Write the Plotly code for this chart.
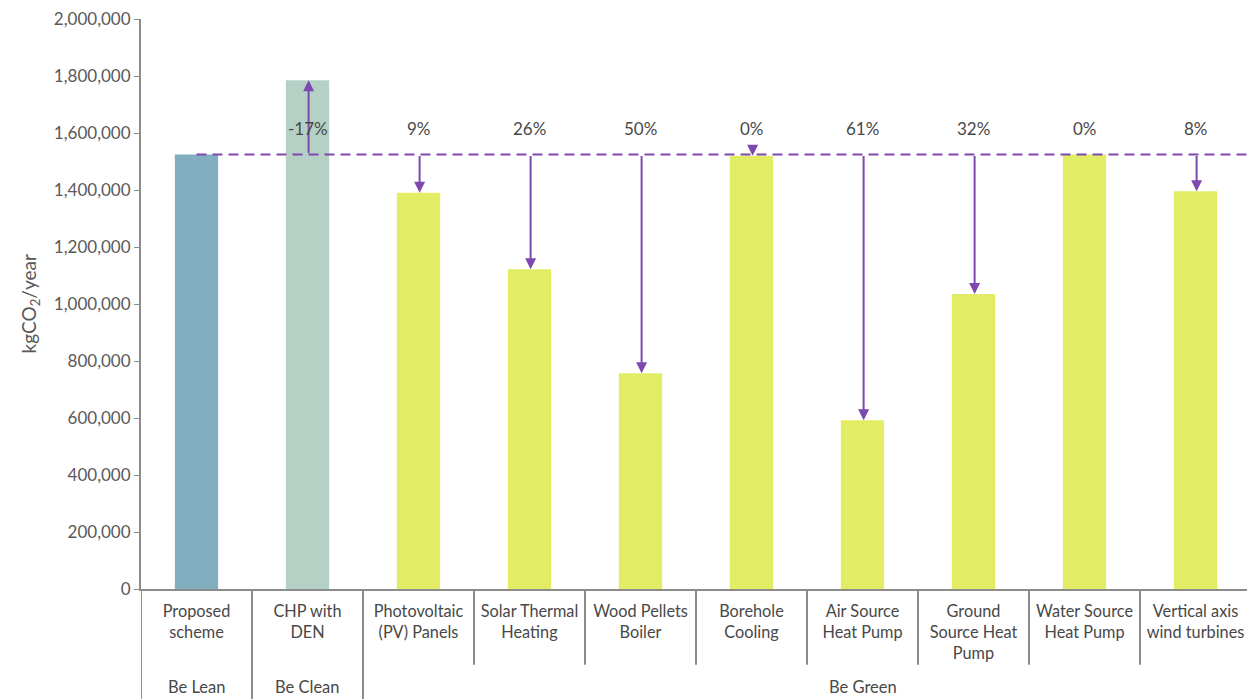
import plotly.graph_objects as go

# Carbon emissions per strategy (kgCO2/year)
categories = [
    "Proposed<br>scheme", "CHP with<br>DEN", "Photovoltaic<br>(PV) Panels",
    "Solar Thermal<br>Heating", "Wood Pellets<br>Boiler", "Borehole<br>Cooling",
    "Air Source<br>Heat Pump", "Ground<br>Source Heat<br>Pump",
    "Water Source<br>Heat Pump", "Vertical axis<br>wind turbines",
]
emissions = [1525000, 1785000, 1390000, 1122000, 757000, 1520000,
             592000, 1035000, 1525000, 1396000]
savings_labels = ["", "-17%", "9%", "26%", "50%", "0%", "61%", "32%", "0%", "8%"]
groups = ["Be Lean", "Be Clean", "Be Green"]
group_first = [0, 1, 2]          # first category index in each group
group_label_pos = [0, 1, 6]      # category index where group label sits
baseline = emissions[0]

LEAN = "#82AFC0"
CLEAN = "#B5D1C6"
GREEN = "#E2EC64"
PURPLE = "#7E48B0"
AXIS = "#8C8C8C"
TEXT = "#484848"
FONT = "Lato"

bar_colors = [LEAN, CLEAN] + [GREEN] * (len(categories) - 2)
xs = list(range(len(categories)))

fig = go.Figure()
fig.add_trace(go.Bar(
    x=xs, y=emissions, marker=dict(color=bar_colors, line=dict(width=0)),
    width=0.39, hoverinfo="y",
))

# baseline reference line from the proposed scheme
fig.add_shape(type="line", xref="x", yref="y", x0=0, x1=len(categories),
              y0=baseline, y1=baseline,
              line=dict(color=PURPLE, width=2, dash="10px,6px"))

annotations = []
min_arrow = 30000  # shortest arrow so the head stays visible
for i, (v, lab) in enumerate(zip(emissions, savings_labels)):
    if i == 0:
        continue
    if v != baseline:
        tail = baseline
        if abs(baseline - v) < min_arrow:
            tail = v + min_arrow
        annotations.append(dict(
            x=i + 0.01, y=v, ax=i + 0.01, ay=tail, xref="x", yref="y",
            axref="x", ayref="y", showarrow=True, arrowhead=2, arrowsize=1.1,
            arrowwidth=2, arrowcolor=PURPLE, standoff=0, startstandoff=0, text="",
        ))
    annotations.append(dict(
        x=i, y=1617000, xref="x", yref="y", text=lab, showarrow=False,
        font=dict(family=FONT, size=17, color=TEXT), yanchor="middle",
    ))

for g, pos in zip(groups, group_label_pos):
    annotations.append(dict(
        x=pos, y=-0.172, xref="x", yref="paper", text=g, showarrow=False,
        font=dict(family=FONT, size=16.5, color=TEXT), yanchor="middle",
    ))

annotations.append(dict(
    x=-0.1, y=0.5, xref="paper", yref="paper", xanchor="center", yanchor="middle",
    text="kgCO<sub>2</sub>/year", textangle=-90, showarrow=False,
    font=dict(family=FONT, size=19, color="#595959"),
))

# category dividers under the axis
for k in range(len(categories)):
    xpos = k - 0.5
    full = k in group_first
    fig.add_shape(
        type="line", xref="x", yref="paper", x0=xpos, x1=xpos, y0=0,
        y1=-0.21 if full else -0.133, line=dict(color=AXIS, width=2),
    )

fig.update_layout(
    width=1247, height=699,
    margin=dict(l=141, r=0, t=19, b=110),
    paper_bgcolor="white", plot_bgcolor="white",
    showlegend=False, annotations=annotations,
    font=dict(family=FONT, color=TEXT),
    xaxis=dict(
        range=[-0.5, 9.464], tickvals=xs, ticktext=categories,
        showgrid=False, zeroline=False, showline=True, linecolor=AXIS,
        linewidth=2, ticks="", ticklabelstandoff=6, ticklabeloverflow="allow",
        tickfont=dict(family=FONT, size=16.3, color=TEXT),
    ),
    yaxis=dict(
        range=[0, 2000000], dtick=200000, tickformat=",d",
        showgrid=False, zeroline=False, showline=True, linecolor=AXIS,
        linewidth=2, ticks="outside", ticklen=5, tickcolor=AXIS,
        tickfont=dict(family=FONT, size=17, color="#595959"),
    ),
    bargap=0.6,
)

fig.write_html("out.html")
